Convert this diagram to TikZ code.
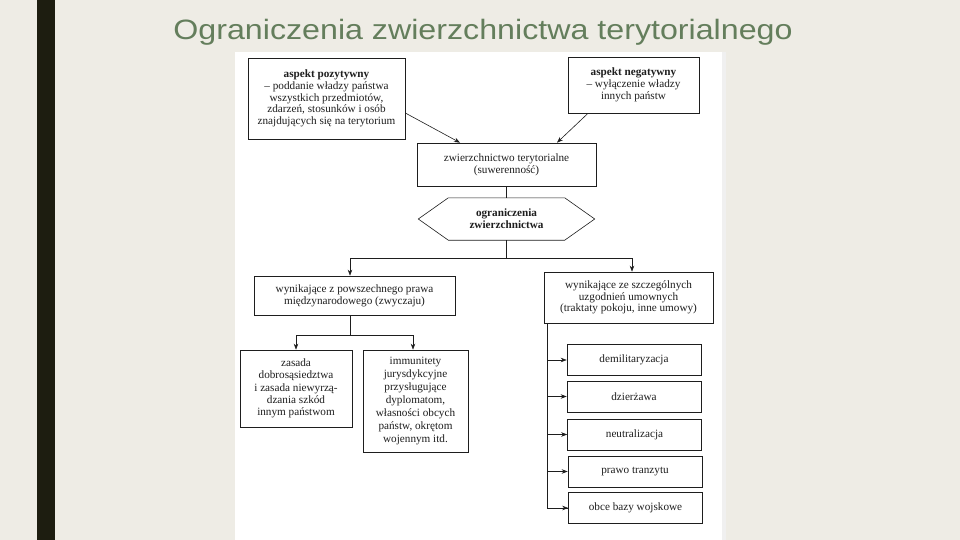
\documentclass[tikz,border=0pt]{standalone}
\usepackage{fontspec}
\setmainfont{Liberation Serif}
\newfontfamily\titlefont{Liberation Sans}
\usetikzlibrary{arrows.meta}
\definecolor{bgc}{RGB}{238,236,229}
\definecolor{barc}{RGB}{29,29,16}
\definecolor{titc}{RGB}{100,126,92}
\definecolor{inkc}{RGB}{30,30,30}
\tikzset{
  box/.style={draw=inkc, line width=0.65pt, align=center, inner sep=0pt,
    font=\fontsize{11.2}{11.8}\selectfont, text=inkc},
  small/.style={box, minimum width=134pt, minimum height=31pt},
  conn/.style={draw=inkc, line width=0.6pt},
  arr/.style={conn, -{Stealth[length=6pt,width=4.5pt]}}
}
\begin{document}
\begin{tikzpicture}[x=1pt,y=-1pt]
\useasboundingbox (0,0) rectangle (960,540);
\fill[bgc] (0,0) rectangle (960,540);
\fill[barc] (37,0) rectangle (55,540);
\fill[white] (235,52) rectangle (726,540);
\fill[black!6] (722,52) rectangle (726,540);
\node[anchor=base, text=titc, font=\titlefont\fontsize{28}{32}\selectfont] (title) at (483,40)
  {\scalebox{1.15}[1]{Ograniczenia zwierzchnictwa terytorialnego}};

\node[box, minimum width=157pt, minimum height=81pt] (poz) at (326.5,98.5)
  {\textbf{aspekt pozytywny}\\ – poddanie władzy państwa\\ wszystkich przedmiotów,\\ zdarzeń, stosunków i osób\\ znajdujących się na terytorium};
\node[box, minimum width=131pt, minimum height=56pt] (neg) at (633.5,85)
  {\textbf{aspekt negatywny}\\ – wyłączenie władzy\\ innych państw};
\node[box, minimum width=179pt, minimum height=43pt] (zw) at (506.5,164.5)
  {zwierzchnictwo terytorialne\\ (suwerenność)};
\node[align=center, inner sep=0pt, minimum width=176pt, minimum height=42pt,
  font=\fontsize{11.2}{11.8}\selectfont\bfseries, text=inkc] (hex) at (506.5,219)
  {ograniczenia\\ zwierzchnictwa};
\draw[conn] (hex.west) -- ([xshift=30pt]hex.north west) -- ([xshift=-30pt]hex.north east)
  -- (hex.east) -- ([xshift=-30pt]hex.south east) -- ([xshift=30pt]hex.south west) -- cycle;

\node[box, minimum width=201pt, minimum height=39pt] (pow) at (354.5,295.5)
  {wynikające z powszechnego prawa\\ międzynarodowego (zwyczaju)};
\node[box, minimum width=169pt, minimum height=51pt] (sz) at (628.5,297.5)
  {wynikające ze szczególnych\\ uzgodnień umownych\\ (traktaty pokoju, inne umowy)};
\node[box, minimum width=112pt, minimum height=77pt, font=\fontsize{11.2}{12.3}\selectfont] (zas) at (296,388.5)
  {zasada\\ dobrosąsiedztwa\\ i zasada niewyrzą-\\ dzania szkód\\ innym państwom};
\node[box, minimum width=105pt, minimum height=102pt, font=\fontsize{11.2}{12.9}\selectfont] (imm) at (415.5,401)
  {immunitety\\ jurysdykcyjne\\ przysługujące\\ dyplomatom,\\ własności obcych\\ państw, okrętom\\ wojennym itd.};

\node[small] (b1) at (634,360) {demilitaryzacja};
\node[small] (b2) at (634,396.5) {dzierżawa};
\node[small] (b3) at (634.5,434.5) {neutralizacja};
\node[small] (b4) at (635,471.5) {prawo tranzytu};
\node[small] (b5) at (635.5,508) {obce bazy wojskowe};

% connectors
\draw[arr] ([yshift=-14.5pt]poz.east) -- ([xshift=-46.5pt]zw.north);
\draw[arr] ([xshift=-45.5pt]neg.south) -- ([xshift=50.5pt]zw.north);
\draw[conn] (zw.south) -- (hex.north);
\coordinate (j1) at (506.5,258);
\draw[conn] (hex.south) -- (j1);
\draw[arr] (j1) -| ([xshift=-4.5pt]pow.north);
\draw[arr] (j1) -| ([xshift=3.5pt]sz.north);
\coordinate (j2) at (350,335);
\draw[conn] ([xshift=-4.5pt]pow.south) -- (j2);
\draw[arr] (j2) -| (zas.north);
\draw[arr] (j2) -| ([xshift=-2.5pt]imm.north);
\coordinate (v) at ([xshift=4pt]sz.south west);
\draw[conn] (v) |- (b5.west);
\foreach \b in {b1,b2,b3,b4,b5}{
  \draw[arr] (v |- \b.west) -- (\b.west);
}
\end{tikzpicture}
\end{document}
